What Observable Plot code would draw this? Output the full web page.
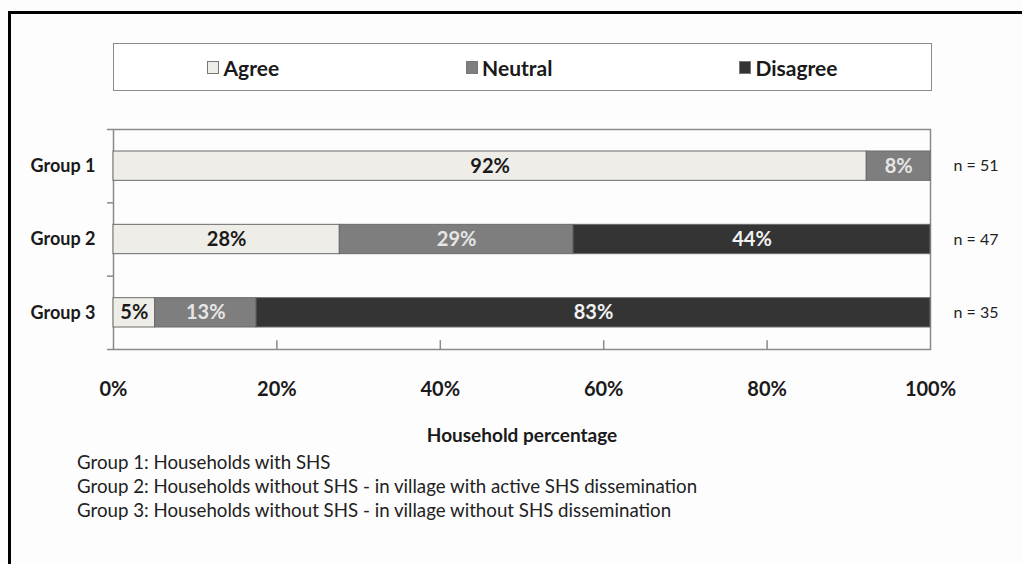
<!DOCTYPE html>
<html>
<head>
<meta charset="utf-8">
<script src="https://cdn.jsdelivr.net/npm/d3@7"></script>
<script src="https://cdn.jsdelivr.net/npm/@observablehq/plot@0.6"></script>
<style>
  html, body { margin: 0; padding: 0; background: #fdfdfd; width: 1022px; height: 564px; overflow: hidden; }
  #page { position: relative; width: 1022px; height: 564px; font-family: Lato, "Open Sans", sans-serif; color: #1a1a1a; }
  #outer { position: absolute; left: 8px; top: 11px; width: 1100px; height: 700px; border-top: 3px solid #000; border-left: 3px solid #000; }
  #legend { position: absolute; left: 113px; top: 43px; width: 817px; height: 46px; border: 1.5px solid #8a8a8a;
            display: flex; justify-content: space-around; align-items: center; background: #fff; }
  .item { display: flex; align-items: center; font-weight: 700; font-size: 21px; }
  .sw { width: 10px; height: 11px; border: 1px solid #777; margin-right: 4px; }
  #chart { position: absolute; left: 0; top: 0; }
  #caption { position: absolute; left: 77px; top: 450px; font-size: 18.7px; line-height: 24px; color: #222; }
</style>
</head>
<body>
<div id="page">
  <div id="outer"></div>
  <div id="legend"></div>
  <div id="chart"></div>
  <div id="caption"></div>
</div>
<script>
const groups = ["Group 1", "Group 2", "Group 3"];
const categories = ["Agree", "Neutral", "Disagree"];
const colors = ["#efede8", "#7e7e7e", "#343434"];
const textColors = ["#1a1a1a", "#e6e6e6", "#f2f2f2"];
const agree = [92.2, 27.7, 5.1];
const neutral = [7.8, 28.6, 12.4];
const disagree = [0, 43.7, 82.5];
const agreeLabels = ["92%", "28%", "5%"];
const neutralLabels = ["8%", "29%", "13%"];
const disagreeLabels = ["", "44%", "83%"];
const nLabels = ["n = 51", "n = 47", "n = 35"];
const xTicks = [0, 20, 40, 60, 80, 100];
const captions = [
  "Group 1: Households with SHS",
  "Group 2: Households without SHS - in village with active SHS dissemination",
  "Group 3: Households without SHS - in village without SHS dissemination"
];

// Build table
const series = [agree, neutral, disagree];
const labels = [agreeLabels, neutralLabels, disagreeLabels];
const rows = [];
groups.forEach((g, i) => {
  let acc = 0;
  categories.forEach((c, k) => {
    const v = series[k][i];
    rows.push({group: g, gi: i, cat: c, k, x1: acc, x2: acc + v, value: v, label: labels[k][i]});
    acc += v;
  });
});
const segs = rows.filter(d => d.value > 0);

// Legend
const legend = document.getElementById("legend");
categories.forEach((c, k) => {
  const it = document.createElement("div");
  it.className = "item";
  it.innerHTML = `<span class="sw" style="background:${colors[k]}"></span><span>${c}</span>`;
  legend.appendChild(it);
});

// Caption
document.getElementById("caption").innerHTML = captions.map(t => `<div>${t}</div>`).join("");

const chart = Plot.plot({
  width: 1022,
  height: 450,
  marginTop: 129,
  marginBottom: 101,
  marginLeft: 113,
  marginRight: 92,
  style: {background: "transparent", fontFamily: "Lato, 'Open Sans', sans-serif", color: "#1a1a1a", overflow: "visible"},
  x: {domain: [0, 100]},
  y: {domain: [0, 3], reverse: true},
  color: {domain: categories, range: colors},
  marks: [
    Plot.frame({stroke: "#8a8a8a", strokeWidth: 1.5}),
    Plot.rect(segs, {x1: "x1", x2: "x2", y1: d => d.gi + 0.3, y2: d => d.gi + 0.7, fill: "cat", stroke: "#6a6a6a", strokeWidth: 1}),
    Plot.text(segs, {x: d => (d.x1 + d.x2) / 2, y: d => d.gi + 0.5, text: "label", fill: d => textColors[d.k], fontWeight: 700, fontSize: 20}),
    Plot.text(groups, {x: 100, y: (d, i) => i + 0.5, text: (d, i) => nLabels[i], textAnchor: "start", dx: 23, fontSize: 16, fill: "#222"}),
    Plot.ruleX(xTicks.slice(1, -1), {y1: 3, y2: 2.88, stroke: "#8a8a8a", strokeWidth: 1.5}),
    Plot.axisY({ticks: [0, 1, 2, 3], tickSize: 6, tickFormat: () => "", stroke: "#8a8a8a", strokeWidth: 1.5}),
    Plot.axisY({ticks: [0.5, 1.5, 2.5], tickSize: 0, tickPadding: 18, tickFormat: d => groups[Math.floor(d)], fontWeight: 700, fontSize: 18, label: null}),
    Plot.axisX({ticks: xTicks, tickSize: 0, tickPadding: 32, tickFormat: d => d + "%", fontWeight: 700, fontSize: 20, label: null}),
    Plot.axisX({ticks: [], tickSize: 0, fontWeight: 700, fontSize: 19,
                label: "Household percentage", labelAnchor: "center", labelOffset: 92, labelArrow: "none"})
  ]
});
document.getElementById("chart").appendChild(chart);
</script>
</body>
</html>
